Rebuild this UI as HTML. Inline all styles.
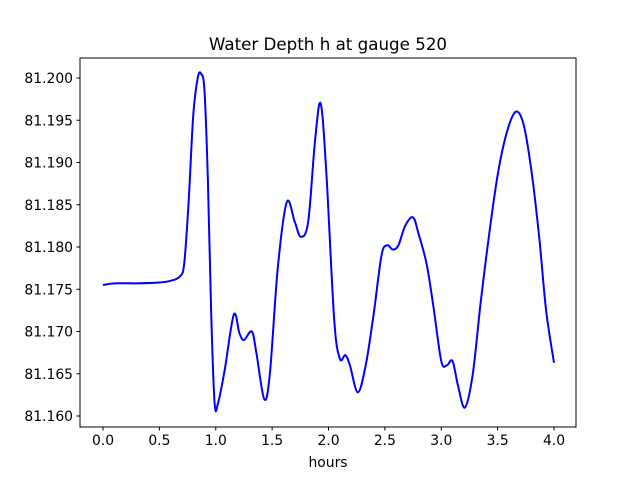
<!DOCTYPE html>
<html><head><meta charset="utf-8"><style>
body{margin:0;background:#fff;}
svg text{font-family:"DejaVu Sans","Liberation Sans",sans-serif;fill:#000;}
</style></head><body>
<svg id="chart" width="640" height="480" xmlns="http://www.w3.org/2000/svg">
<rect width="640" height="480" fill="#fff"/>
<text x="328" y="50" font-size="16.7" text-anchor="middle">Water Depth h at gauge 520</text>
<g id="ticks"></g>
<path id="line" fill="none" stroke="#0000ff" stroke-width="2"/>
<rect x="80" y="58" width="496" height="369" fill="none" stroke="#000" stroke-width="1"/>
<text x="328" y="467" font-size="13.9" text-anchor="middle">hours</text>
</svg>
<script>
const times=[0,0.1,0.3,0.5,0.6,0.68,0.72,0.76,0.8,0.84,0.87,0.9,0.93,0.96,0.99,1.02,1.08,1.16,1.21,1.25,1.32,1.36,1.43,1.48,1.55,1.63,1.7,1.755,1.82,1.88,1.93,1.98,2.05,2.1,2.15,2.19,2.26,2.33,2.4,2.47,2.52,2.57,2.62,2.68,2.75,2.8,2.87,2.93,3.0,3.05,3.1,3.15,3.21,3.28,3.35,3.42,3.5,3.58,3.66,3.73,3.8,3.87,3.93,4.0];
const depths=[81.1755,81.1757,81.1757,81.1758,81.176,81.1765,81.178,81.1855,81.1955,81.2,81.2005,81.1985,81.188,81.172,81.1615,81.1615,81.1655,81.172,81.1698,81.169,81.170,81.1675,81.162,81.165,81.1775,81.1853,81.183,81.1812,81.183,81.1925,81.197,81.189,81.1715,81.1668,81.1672,81.166,81.1628,81.166,81.172,81.179,81.1802,81.1797,81.1802,81.1825,81.1835,81.1815,81.178,81.173,81.1665,81.166,81.1665,81.1635,81.161,81.165,81.1735,81.181,81.1885,81.1935,81.196,81.1945,81.189,81.181,81.1725,81.1663];
const xTicks=[0,0.5,1,1.5,2,2.5,3,3.5,4];
const xTickLabels=["0.0","0.5","1.0","1.5","2.0","2.5","3.0","3.5","4.0"];
const yTicks=[81.160,81.165,81.170,81.175,81.180,81.185,81.190,81.195,81.200];
const yTickLabels=["81.160","81.165","81.170","81.175","81.180","81.185","81.190","81.195","81.200"];
const xs=t=>103+t*112.75;
const ys=v=>416-(v-81.16)*8450;
const NS="http://www.w3.org/2000/svg";
const g=document.getElementById('ticks');
function mk(tag,attrs){const e=document.createElementNS(NS,tag);for(const k in attrs)e.setAttribute(k,attrs[k]);return e;}
xTicks.forEach((t,i)=>{
  const l=mk('line',{x1:xs(t),x2:xs(t),y1:427,y2:430.5,stroke:'#000'});
  
  
  g.appendChild(l);
  const tx=mk('text',{x:xs(t),y:445,'font-size':'13.9','text-anchor':'middle'});
  
  
  tx.textContent=xTickLabels[i];g.appendChild(tx);
});
yTicks.forEach((v,i)=>{
  const l=mk('line',{x1:76.5,x2:80,y1:ys(v),y2:ys(v),stroke:'#000'});
  
  
  g.appendChild(l);
  const tx=mk('text',{x:73,y:ys(v)+5,'font-size':'13.9','text-anchor':'end'});
  
  
  tx.textContent=yTickLabels[i];g.appendChild(tx);
});
const P=times.map((t,i)=>[xs(t),ys(depths[i])]);
let d='M'+P[0][0]+','+P[0][1];
for(let i=0;i<P.length-1;i++){
  const p0=P[Math.max(0,i-1)],p1=P[i],p2=P[i+1],p3=P[Math.min(P.length-1,i+2)];
  const c1=[p1[0]+(p2[0]-p0[0])/6,p1[1]+(p2[1]-p0[1])/6];
  const c2=[p2[0]-(p3[0]-p1[0])/6,p2[1]-(p3[1]-p1[1])/6];
  d+=` C${c1[0]},${c1[1]} ${c2[0]},${c2[1]} ${p2[0]},${p2[1]}`;
}
document.getElementById('line').setAttribute('d',d);
</script>
</body></html>
